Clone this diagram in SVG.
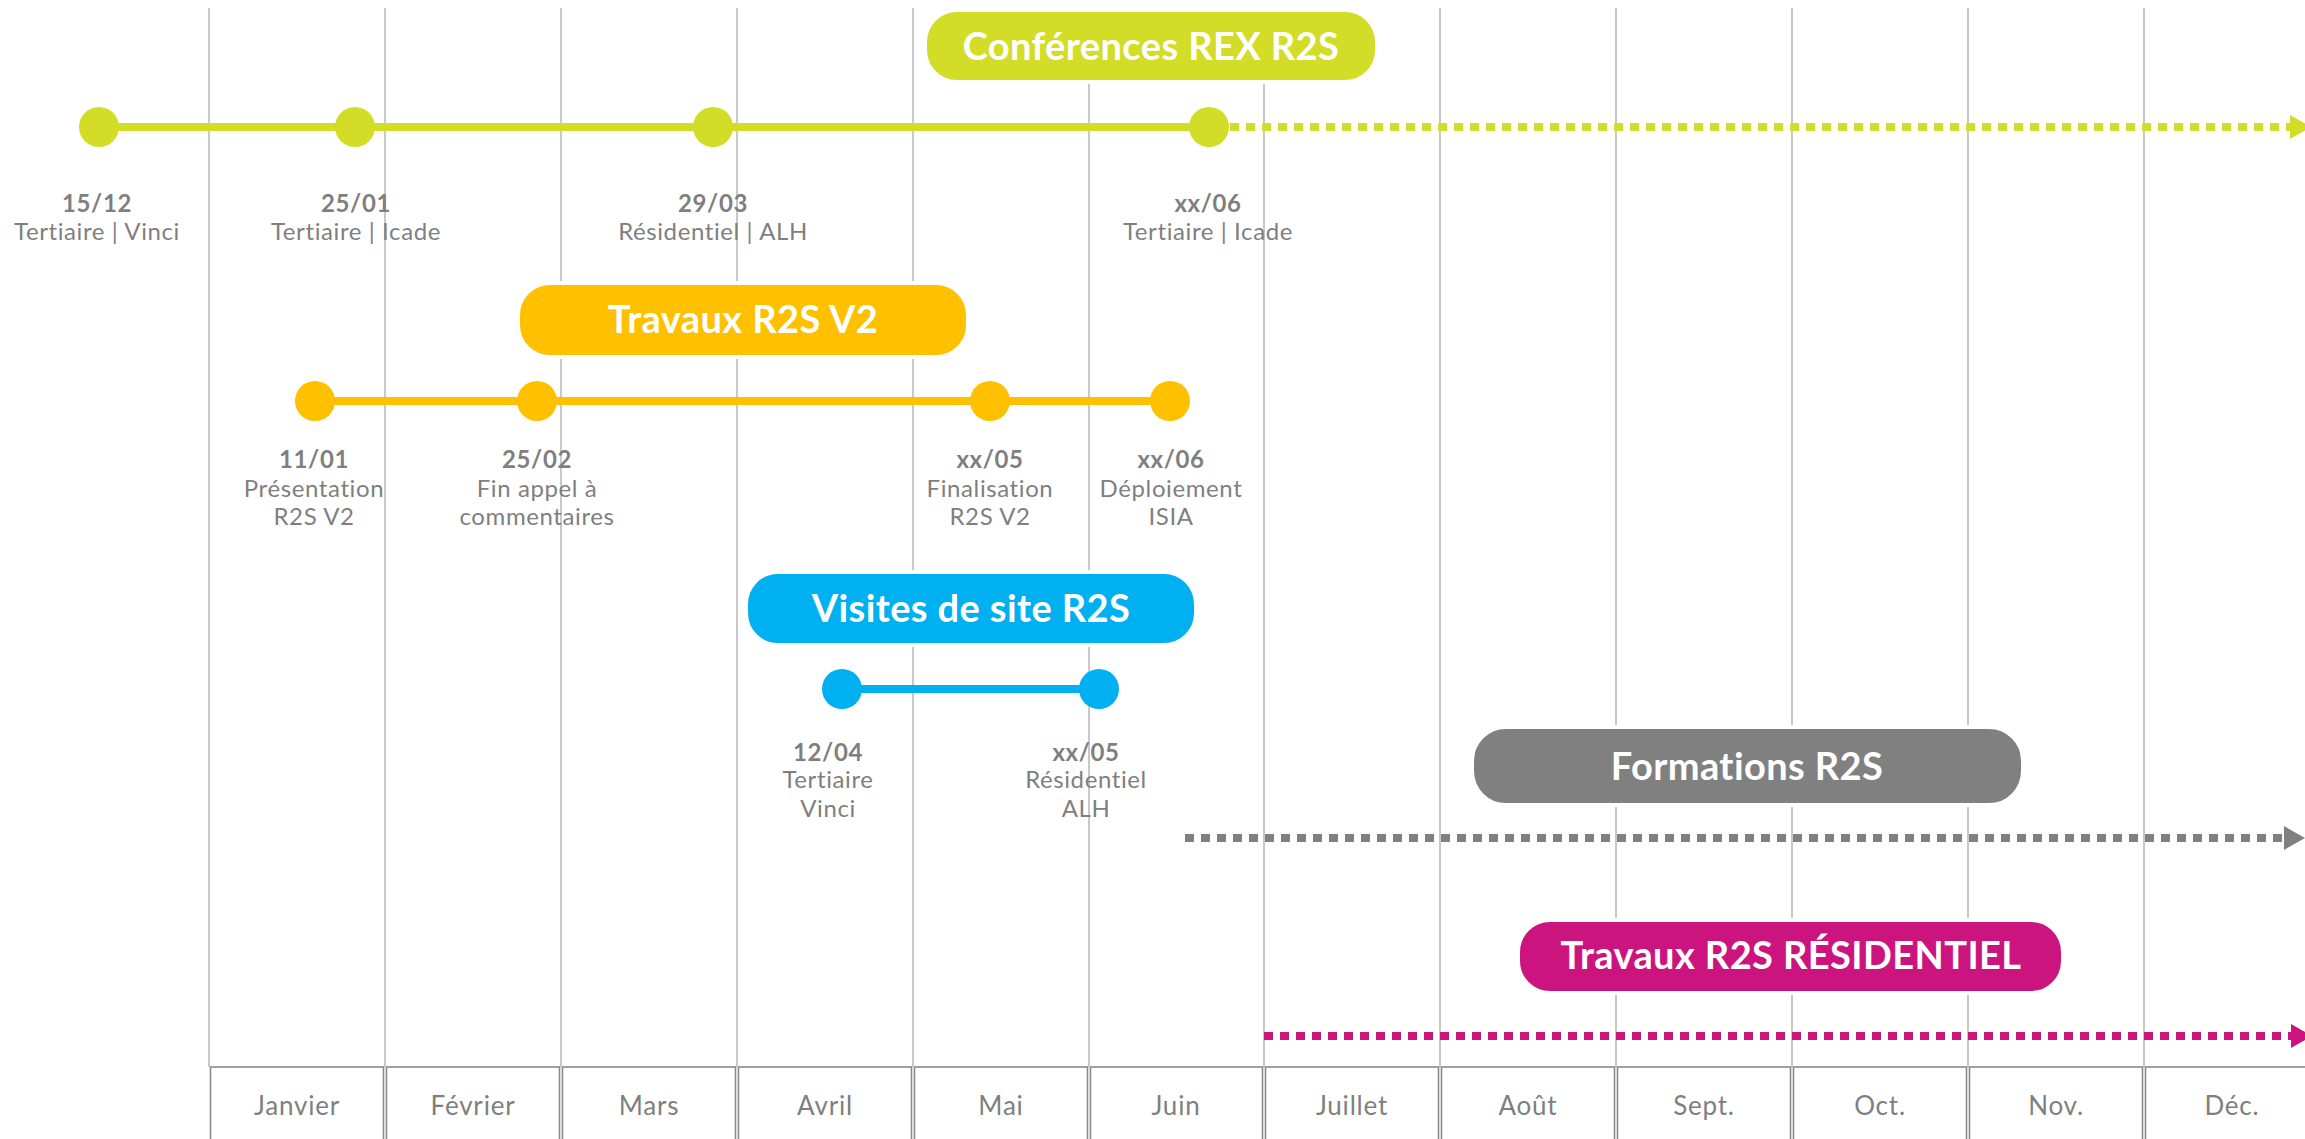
<svg xmlns="http://www.w3.org/2000/svg" width="2305" height="1139" viewBox="0 0 2305 1139">
<defs>
<style>
.grid{stroke:#c8c8c8;stroke-width:2;fill:none}
.cell{fill:#fff;stroke:#8a8a8a;stroke-width:1.6}
.month{font-family:"Lato","Liberation Sans",sans-serif;font-size:26px;fill:#7f7f7f;text-anchor:middle;letter-spacing:0.8px}
.pill{stroke:#fff;stroke-width:4}
.ptxt{font-family:"Lato","Liberation Sans",sans-serif;font-weight:bold;font-size:38px;fill:#fff;text-anchor:middle;letter-spacing:0.4px}
.lbl{font-family:"Lato","Liberation Sans",sans-serif;font-size:24px;fill:#7f7f7f;text-anchor:middle;letter-spacing:0.6px}
.date{font-weight:bold}
.solid{stroke-width:8;fill:none}
.dots{stroke-width:8;fill:none;stroke-dasharray:9 7}
</style>
<marker id="arG" markerUnits="userSpaceOnUse" markerWidth="22" markerHeight="26" refX="0" refY="13" orient="auto"><path d="M0,1 L21,13 L0,25 Z" fill="#d3dc27"/></marker>
<marker id="arK" markerUnits="userSpaceOnUse" markerWidth="22" markerHeight="26" refX="0" refY="13" orient="auto"><path d="M0,1 L21,13 L0,25 Z" fill="#808080"/></marker>
<marker id="arM" markerUnits="userSpaceOnUse" markerWidth="22" markerHeight="26" refX="0" refY="13" orient="auto"><path d="M0,1 L21,13 L0,25 Z" fill="#cc147f"/></marker>
</defs>
<rect x="0" y="0" width="2305" height="1139" fill="#fff"/>

<g id="grid">
<path class="grid" d="M209,8V1067M385,8V1067M561,8V1067M737,8V1067M913,8V1067M1089,8V1067M1264,8V1067M1440,8V1067M1616,8V1067M1792,8V1067M1968,8V1067M2144,8V1067"/>
</g>

<g id="months">
<rect class="cell" x="210.5" y="1067" width="173" height="80"/>
<rect class="cell" x="386.5" y="1067" width="173" height="80"/>
<rect class="cell" x="562.5" y="1067" width="173" height="80"/>
<rect class="cell" x="738.5" y="1067" width="173" height="80"/>
<rect class="cell" x="914.5" y="1067" width="173" height="80"/>
<rect class="cell" x="1090.5" y="1067" width="172" height="80"/>
<rect class="cell" x="1265.5" y="1067" width="173" height="80"/>
<rect class="cell" x="1441.5" y="1067" width="173" height="80"/>
<rect class="cell" x="1617.5" y="1067" width="173" height="80"/>
<rect class="cell" x="1793.5" y="1067" width="173" height="80"/>
<rect class="cell" x="1969.5" y="1067" width="173" height="80"/>
<rect class="cell" x="2145.5" y="1067" width="173" height="80"/>
<text class="month" x="297" y="1115">Janvier</text>
<text class="month" x="473" y="1115">Février</text>
<text class="month" x="649" y="1115">Mars</text>
<text class="month" x="825" y="1115">Avril</text>
<text class="month" x="1001" y="1115">Mai</text>
<text class="month" x="1176" y="1115">Juin</text>
<text class="month" x="1352" y="1115">Juillet</text>
<text class="month" x="1528" y="1115">Août</text>
<text class="month" x="1704" y="1115">Sept.</text>
<text class="month" x="1880" y="1115">Oct.</text>
<text class="month" x="2056" y="1115">Nov.</text>
<text class="month" x="2232" y="1115">Déc.</text>
</g>

<g id="connectors">
<path class="solid" stroke="#d3dc27" d="M99,127H1209"/>
<path class="dots" stroke="#d3dc27" d="M1230,127H2290" marker-end="url(#arG)"/>
<path class="solid" stroke="#ffc000" d="M315,401H1170"/>
<path class="solid" stroke="#00b0f0" d="M842,689H1099"/>
<path class="dots" stroke="#808080" d="M1185,838H2284" marker-end="url(#arK)"/>
<path class="dots" stroke="#cc147f" d="M1264,1036H2291" marker-end="url(#arM)"/>
</g>

<g id="pill-conferences">
<rect class="pill" x="925" y="10" width="452" height="72" rx="32" fill="#d3dc27"/>
<text class="ptxt" x="1151" y="60">Conférences REX R2S</text>
</g>
<g id="pill-travaux-v2">
<rect class="pill" x="518" y="283" width="450" height="74" rx="32" fill="#ffc000"/>
<text class="ptxt" x="743" y="333">Travaux R2S V2</text>
</g>
<g id="pill-visites">
<rect class="pill" x="746" y="572" width="450" height="73" rx="32" fill="#00b0f0"/>
<text class="ptxt" x="971" y="622">Visites de site R2S</text>
</g>
<g id="pill-formations">
<rect class="pill" x="1472" y="727" width="551" height="78" rx="34" fill="#808080"/>
<text class="ptxt" x="1747" y="780">Formations R2S</text>
</g>
<g id="pill-residentiel">
<rect class="pill" x="1518" y="920" width="545" height="73" rx="32" fill="#cc147f"/>
<text class="ptxt" x="1791" y="969">Travaux R2S RÉSIDENTIEL</text>
</g>

<g id="m-15-12"><circle cx="99" cy="127" r="20" fill="#d3dc27"/>
<text class="lbl date" x="97" y="212">15/12</text><text class="lbl" x="97" y="240">Tertiaire | Vinci</text></g>
<g id="m-25-01"><circle cx="355" cy="127" r="20" fill="#d3dc27"/>
<text class="lbl date" x="356" y="212">25/01</text><text class="lbl" x="356" y="240">Tertiaire | Icade</text></g>
<g id="m-29-03"><circle cx="713" cy="127" r="20" fill="#d3dc27"/>
<text class="lbl date" x="713" y="212">29/03</text><text class="lbl" x="713" y="240">Résidentiel | ALH</text></g>
<g id="m-xx-06a"><circle cx="1209" cy="127" r="20" fill="#d3dc27"/>
<text class="lbl date" x="1208" y="212">xx/06</text><text class="lbl" x="1208" y="240">Tertiaire | Icade</text></g>

<g id="m-11-01"><circle cx="315" cy="401" r="20" fill="#ffc000"/>
<text class="lbl date" x="314" y="468">11/01</text><text class="lbl" x="314" y="497">Présentation</text><text class="lbl" x="314" y="525">R2S V2</text></g>
<g id="m-25-02"><circle cx="537" cy="401" r="20" fill="#ffc000"/>
<text class="lbl date" x="537" y="468">25/02</text><text class="lbl" x="537" y="497">Fin appel à</text><text class="lbl" x="537" y="525">commentaires</text></g>
<g id="m-xx-05a"><circle cx="990" cy="401" r="20" fill="#ffc000"/>
<text class="lbl date" x="990" y="468">xx/05</text><text class="lbl" x="990" y="497">Finalisation</text><text class="lbl" x="990" y="525">R2S V2</text></g>
<g id="m-xx-06b"><circle cx="1170" cy="401" r="20" fill="#ffc000"/>
<text class="lbl date" x="1171" y="468">xx/06</text><text class="lbl" x="1171" y="497">Déploiement</text><text class="lbl" x="1171" y="525">ISIA</text></g>

<g id="m-12-04"><circle cx="842" cy="689" r="20" fill="#00b0f0"/>
<text class="lbl date" x="828" y="761">12/04</text><text class="lbl" x="828" y="788">Tertiaire</text><text class="lbl" x="828" y="817">Vinci</text></g>
<g id="m-xx-05b"><circle cx="1099" cy="689" r="20" fill="#00b0f0"/>
<text class="lbl date" x="1086" y="761">xx/05</text><text class="lbl" x="1086" y="788">Résidentiel</text><text class="lbl" x="1086" y="817">ALH</text></g>
</svg>
